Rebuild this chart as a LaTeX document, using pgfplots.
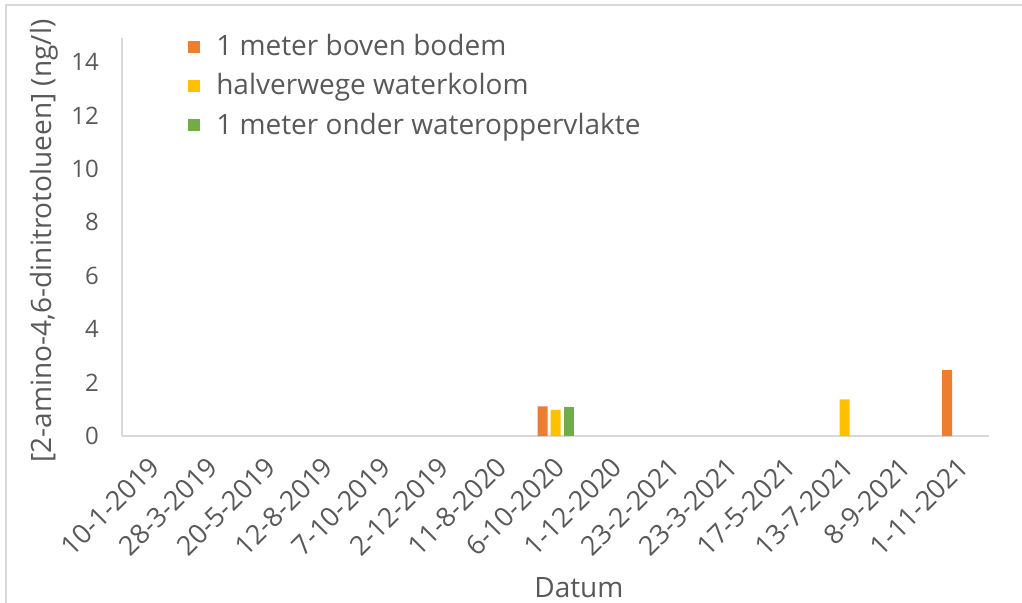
\documentclass[border=0pt]{standalone}
\usepackage{pgfplots}
\pgfplotsset{compat=1.18}
\usepackage{fontspec}
\setmainfont{Open Sans}
\definecolor{cOr}{HTML}{ED7D31}
\definecolor{cYe}{HTML}{FFC000}
\definecolor{cGr}{HTML}{70AD47}
\definecolor{cAx}{HTML}{D9D9D9}
\definecolor{cTx}{HTML}{595959}
\begin{document}
\begin{tikzpicture}[x=0.5pt,y=0.5pt]
\begin{axis}[
  at={(0,0)}, anchor=south west,
  scale only axis, width=433.5pt, height=199pt,
  ybar, bar width=5pt,
  xmin=-0.5, xmax=14.5, ymin=0, ymax=14.9,
  ytick={0,2,...,14},
  xtick={0,...,14},
  xticklabels={10-1-2019,28-3-2019,20-5-2019,12-8-2019,7-10-2019,2-12-2019,11-8-2020,6-10-2020,1-12-2020,23-2-2021,23-3-2021,17-5-2021,13-7-2021,8-9-2021,1-11-2021},
  axis x line*=bottom, axis y line*=left,
  axis line style={cAx, line width=1pt},
  x axis line style={-}, y axis line style={-},
  major tick length=0pt,
  tick style={draw=none},
  yticklabel style={font=\fontsize{12}{14}\selectfont, text=cTx, anchor=east, xshift=-8pt},
  xticklabel style={font=\fontsize{13.5}{16}\selectfont, text=cTx, xshift=2pt, yshift=-13pt, rotate=45, anchor=east, inner sep=0pt},
  /pgf/number format/assume math mode=true,
  ylabel={[2-amino-4,6-dinitrotolueen] (ng/l)},
  ylabel style={at={(axis description cs:-0.09,0.49)}, anchor=center, font=\fontsize{14}{17}\selectfont, text=cTx},
  xlabel={Datum},
  xlabel style={at={(axis description cs:0.527,-0.382)}, anchor=center, font=\fontsize{14}{17}\selectfont, text=cTx},
  legend style={at={(axis description cs:0.076,1.02)}, anchor=north west, draw=none, fill=none,
    font=\fontsize{14}{17}\selectfont, text=cTx, row sep=3.5pt, inner sep=0pt},
  legend cell align=left,
  legend image code/.code={\fill[#1] (0pt,-3pt) rectangle (6pt,3pt);},
]
\addplot[fill=cOr, draw=none, bar shift=-6.5pt] coordinates {(7,1.11) (14,2.47)};
\addlegendentry{\hspace{6pt}1 meter boven bodem}
\addplot[fill=cYe, draw=none, bar shift=0pt] coordinates {(7,0.98) (12,1.37)};
\addlegendentry{\hspace{6pt}halverwege waterkolom}
\addplot[fill=cGr, draw=none, bar shift=6.5pt] coordinates {(7,1.09)};
\addlegendentry{\hspace{6pt}1 meter onder wateroppervlakte}
\end{axis}
\draw[cAx, line width=0.75pt] (-116,-170) -- (-116,431) -- (905,431);
\pgfresetboundingbox
\useasboundingbox (-122,-166) rectangle (900,436);
\end{tikzpicture}
\end{document}
